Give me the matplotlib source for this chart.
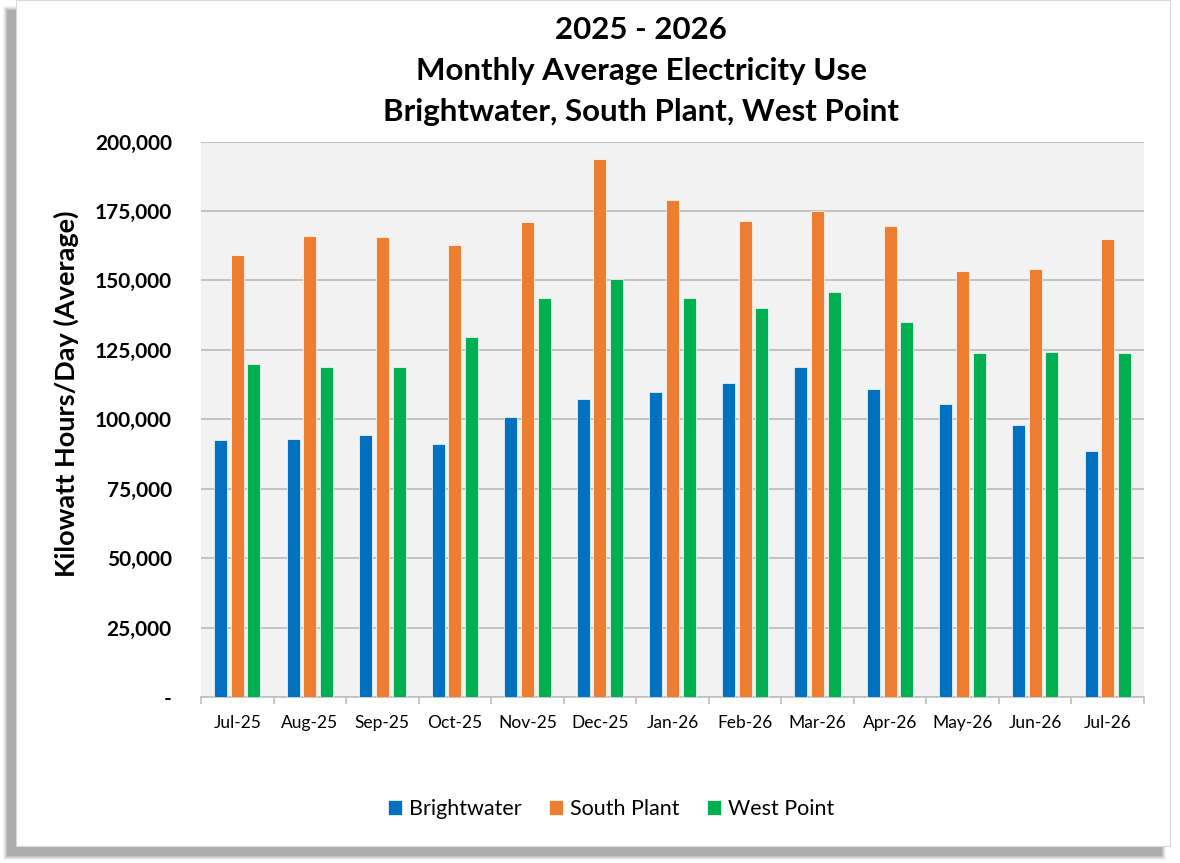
import numpy as np
import matplotlib
matplotlib.use('Agg')
import matplotlib.pyplot as plt
from matplotlib.patches import Rectangle
from matplotlib.ticker import FuncFormatter, MultipleLocator, FixedLocator

# data
months = ['Jul-25', 'Aug-25', 'Sep-25', 'Oct-25', 'Nov-25', 'Dec-25', 'Jan-26',
          'Feb-26', 'Mar-26', 'Apr-26', 'May-26', 'Jun-26', 'Jul-26']
brightwater = [92500, 92900, 94200, 91100, 100900, 107300, 109900,
               112900, 118700, 111000, 105500, 97900, 88600]
south_plant = [159200, 166100, 165500, 162600, 171000, 193600, 178800,
               171300, 175100, 169700, 153300, 154000, 164800]
west_point = [119800, 118800, 118700, 129500, 143700, 150400, 143800,
              139900, 145900, 134900, 123900, 124100, 123700]

series_names = ['Brightwater', 'South Plant', 'West Point']
colors = ['#0070C0', '#ED7D31', '#00B050']

plt.rcParams['font.family'] = ['Lato', 'DejaVu Sans']

W, H = 1180, 863
fig = plt.figure(figsize=(W / 100, H / 100), dpi=100)
fig.patch.set_facecolor('white')

# frame with a soft shadow (left and bottom)
for i, a in enumerate([0.08, 0.12, 0.16, 0.22, 0.30]):
    d = 4 - i
    fig.patches.append(Rectangle((7 - d, 7 - d), 1155 + 2 * d, 846 + 2 * d,
                                 transform=None, facecolor='#7f7f7f', alpha=a,
                                 edgecolor='none', zorder=0))
fig.patches.append(Rectangle((16, 17), 1154, 846, transform=None,
                             facecolor='white', edgecolor='#d9d9d9', lw=0.8, zorder=1))

ax = fig.add_axes([201 / W, 1 - 697 / H, (1144 - 201) / W, (697 - 141.5) / H])
ax.set_facecolor('#F2F2F2')
ax.set_zorder(2)

x = np.arange(len(months))
width = 0.18
offs = [-0.23, 0, 0.23]
for vals, off, c, name in zip([brightwater, south_plant, west_point], offs, colors, series_names):
    ax.bar(x + off, vals, width, color=c, edgecolor='white', linewidth=0.5,
           label=name, zorder=3)

ax.set_xlim(-0.5, len(months) - 0.5)
ax.set_ylim(0, 200000)
ax.yaxis.set_major_locator(MultipleLocator(25000))
ax.yaxis.set_major_formatter(FuncFormatter(lambda v, p: '-' if v == 0 else f'{int(v):,}'))
ax.grid(axis='y', color='#BFBFBF', linewidth=1.3, zorder=1)
ax.set_axisbelow(True)

for s in ['top', 'right', 'left']:
    ax.spines[s].set_visible(False)
ax.spines['bottom'].set_color('#BFBFBF')
ax.spines['bottom'].set_linewidth(1.2)

ax.tick_params(axis='y', length=0, pad=21, labelsize=15)
for lab in ax.get_yticklabels():
    lab.set_fontweight('bold')

ax.set_xticks(x)
ax.set_xticklabels(months, fontsize=12.5)
ax.tick_params(axis='x', which='major', length=0, pad=13)
ax.xaxis.set_minor_locator(FixedLocator(np.arange(-0.5, len(months), 1.0)))
ax.tick_params(axis='x', which='minor', length=5, color='#BFBFBF', width=1.2)

ax.set_ylabel('Kilowatt Hours/Day (Average)', fontsize=19.5, fontweight='bold', va='center')
ax.yaxis.set_label_coords((66 - 201) / 943, (697 - 394) / 555.5)

title_lines = ['2025 - 2026', 'Monthly Average Electricity Use',
               'Brightwater, South Plant, West Point']
for line, ypix in zip(title_lines, [30, 71, 112]):
    fig.text(0.5435, 1 - ypix / H, line, ha='center', va='center',
             fontsize=22.5, fontweight='bold')

leg = fig.legend(loc='center', bbox_to_anchor=(611 / W, 1 - 809 / H), ncol=3,
                 frameon=False, fontsize=15.5, handlelength=0.65, handleheight=0.65,
                 handletextpad=0.3, columnspacing=1.3)

fig.savefig('out.png', dpi=100)
